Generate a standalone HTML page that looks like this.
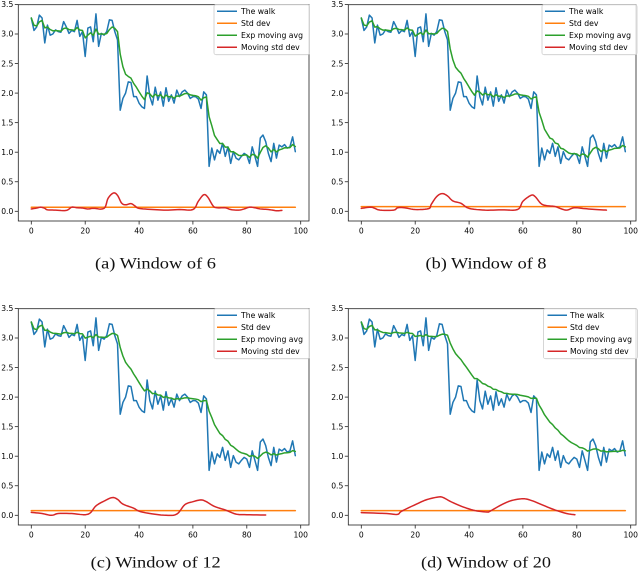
<!DOCTYPE html>
<html><head><meta charset="utf-8"><style>
html,body{margin:0;padding:0;background:#fff}
svg{display:block}
.tk{font-family:"DejaVu Sans","Liberation Sans",sans-serif;font-size:7.6px;fill:#000}
.lg{font-family:"DejaVu Sans","Liberation Sans",sans-serif;font-size:7.7px;fill:#000}
.cap{font-family:"Liberation Serif",serif;font-size:16px;fill:#111}
</style></head><body>
<svg id="s" width="640" height="577" viewBox="0 0 640 577" xmlns="http://www.w3.org/2000/svg">
<rect x="0" y="0" width="640" height="577" fill="#fff"/>

<!-- Panel A -->
<g transform="translate(0,0)">
 <g id="da"></g>
 <rect x="18.3" y="4.7" width="290.7" height="216.3" fill="none" stroke="#222" stroke-width="0.8"/>
 <g stroke="#222" stroke-width="0.8">
  <line x1="14.8" x2="18.3" y1="211.3" y2="211.3"/><line x1="14.8" x2="18.3" y1="181.75" y2="181.75"/><line x1="14.8" x2="18.3" y1="152.2" y2="152.2"/><line x1="14.8" x2="18.3" y1="122.65" y2="122.65"/><line x1="14.8" x2="18.3" y1="93.1" y2="93.1"/><line x1="14.8" x2="18.3" y1="63.55" y2="63.55"/><line x1="14.8" x2="18.3" y1="34" y2="34"/><line x1="14.8" x2="18.3" y1="4.45" y2="4.45"/>
  <line x1="31.3" x2="31.3" y1="221" y2="224.5"/><line x1="85.2" x2="85.2" y1="221" y2="224.5"/><line x1="139.1" x2="139.1" y1="221" y2="224.5"/><line x1="192.9" x2="192.9" y1="221" y2="224.5"/><line x1="246.8" x2="246.8" y1="221" y2="224.5"/><line x1="300.7" x2="300.7" y1="221" y2="224.5"/>
 </g>
 <g class="tk" text-anchor="end">
  <text x="13.3" y="214">0.0</text><text x="13.3" y="184.45">0.5</text><text x="13.3" y="154.9">1.0</text><text x="13.3" y="125.35">1.5</text><text x="13.3" y="95.8">2.0</text><text x="13.3" y="66.25">2.5</text><text x="13.3" y="36.7">3.0</text><text x="13.3" y="7.15">3.5</text>
 </g>
 <g class="tk" text-anchor="middle">
  <text x="31.3" y="233.4">0</text><text x="85.2" y="233.4">20</text><text x="139.1" y="233.4">40</text><text x="192.9" y="233.4">60</text><text x="246.8" y="233.4">80</text><text x="300.7" y="233.4">100</text>
 </g>
 <g>
  <rect x="214" y="4.7" width="95.5" height="50" rx="2" fill="#fff" fill-opacity="0.8" stroke="#ccc" stroke-width="0.8"/>
  <line x1="217" x2="237" y1="11.2" y2="11.2" stroke="#1f77b4" stroke-width="1.5"/>
  <line x1="217" x2="237" y1="23.2" y2="23.2" stroke="#ff7f0e" stroke-width="1.5"/>
  <line x1="217" x2="237" y1="35.2" y2="35.2" stroke="#2ca02c" stroke-width="1.5"/>
  <line x1="217" x2="237" y1="47.2" y2="47.2" stroke="#d62728" stroke-width="1.5"/>
  <text class="lg" x="241" y="13.9">The walk</text>
  <text class="lg" x="241" y="25.9">Std dev</text>
  <text class="lg" x="241" y="37.9">Exp moving avg</text>
  <text class="lg" x="241" y="49.9">Moving std dev</text>
 </g>
</g>

<!-- Panel B -->
<g transform="translate(330,0)">
 <g id="db"></g>
 <rect x="18.3" y="4.7" width="287.7" height="216.3" fill="none" stroke="#222" stroke-width="0.8"/>
 <g stroke="#222" stroke-width="0.8">
  <line x1="14.8" x2="18.3" y1="211.3" y2="211.3"/><line x1="14.8" x2="18.3" y1="181.75" y2="181.75"/><line x1="14.8" x2="18.3" y1="152.2" y2="152.2"/><line x1="14.8" x2="18.3" y1="122.65" y2="122.65"/><line x1="14.8" x2="18.3" y1="93.1" y2="93.1"/><line x1="14.8" x2="18.3" y1="63.55" y2="63.55"/><line x1="14.8" x2="18.3" y1="34" y2="34"/><line x1="14.8" x2="18.3" y1="4.45" y2="4.45"/>
  <line x1="31.3" x2="31.3" y1="221" y2="224.5"/><line x1="85.2" x2="85.2" y1="221" y2="224.5"/><line x1="139.1" x2="139.1" y1="221" y2="224.5"/><line x1="192.9" x2="192.9" y1="221" y2="224.5"/><line x1="246.8" x2="246.8" y1="221" y2="224.5"/><line x1="300.7" x2="300.7" y1="221" y2="224.5"/>
 </g>
 <g class="tk" text-anchor="end">
  <text x="13.3" y="214">0.0</text><text x="13.3" y="184.45">0.5</text><text x="13.3" y="154.9">1.0</text><text x="13.3" y="125.35">1.5</text><text x="13.3" y="95.8">2.0</text><text x="13.3" y="66.25">2.5</text><text x="13.3" y="36.7">3.0</text><text x="13.3" y="7.15">3.5</text>
 </g>
 <g class="tk" text-anchor="middle">
  <text x="31.3" y="233.4">0</text><text x="85.2" y="233.4">20</text><text x="139.1" y="233.4">40</text><text x="192.9" y="233.4">60</text><text x="246.8" y="233.4">80</text><text x="300.7" y="233.4">100</text>
 </g>
 <g>
  <rect x="212" y="4.7" width="95" height="50" rx="2" fill="#fff" fill-opacity="0.8" stroke="#ccc" stroke-width="0.8"/>
  <line x1="215" x2="235" y1="11.2" y2="11.2" stroke="#1f77b4" stroke-width="1.5"/>
  <line x1="215" x2="235" y1="23.2" y2="23.2" stroke="#ff7f0e" stroke-width="1.5"/>
  <line x1="215" x2="235" y1="35.2" y2="35.2" stroke="#2ca02c" stroke-width="1.5"/>
  <line x1="215" x2="235" y1="47.2" y2="47.2" stroke="#d62728" stroke-width="1.5"/>
  <text class="lg" x="239" y="13.9">The walk</text>
  <text class="lg" x="239" y="25.9">Std dev</text>
  <text class="lg" x="239" y="37.9">Exp moving avg</text>
  <text class="lg" x="239" y="49.9">Moving std dev</text>
 </g>
</g>

<!-- Panel C -->
<g transform="translate(0,304)">
 <g id="dc"></g>
 <rect x="18.3" y="4.7" width="290.7" height="216.3" fill="none" stroke="#222" stroke-width="0.8"/>
 <g stroke="#222" stroke-width="0.8">
  <line x1="14.8" x2="18.3" y1="211.3" y2="211.3"/><line x1="14.8" x2="18.3" y1="181.75" y2="181.75"/><line x1="14.8" x2="18.3" y1="152.2" y2="152.2"/><line x1="14.8" x2="18.3" y1="122.65" y2="122.65"/><line x1="14.8" x2="18.3" y1="93.1" y2="93.1"/><line x1="14.8" x2="18.3" y1="63.55" y2="63.55"/><line x1="14.8" x2="18.3" y1="34" y2="34"/><line x1="14.8" x2="18.3" y1="4.45" y2="4.45"/>
  <line x1="31.3" x2="31.3" y1="221" y2="224.5"/><line x1="85.2" x2="85.2" y1="221" y2="224.5"/><line x1="139.1" x2="139.1" y1="221" y2="224.5"/><line x1="192.9" x2="192.9" y1="221" y2="224.5"/><line x1="246.8" x2="246.8" y1="221" y2="224.5"/><line x1="300.7" x2="300.7" y1="221" y2="224.5"/>
 </g>
 <g class="tk" text-anchor="end">
  <text x="13.3" y="214">0.0</text><text x="13.3" y="184.45">0.5</text><text x="13.3" y="154.9">1.0</text><text x="13.3" y="125.35">1.5</text><text x="13.3" y="95.8">2.0</text><text x="13.3" y="66.25">2.5</text><text x="13.3" y="36.7">3.0</text><text x="13.3" y="7.15">3.5</text>
 </g>
 <g class="tk" text-anchor="middle">
  <text x="31.3" y="233.4">0</text><text x="85.2" y="233.4">20</text><text x="139.1" y="233.4">40</text><text x="192.9" y="233.4">60</text><text x="246.8" y="233.4">80</text><text x="300.7" y="233.4">100</text>
 </g>
 <g>
  <rect x="214" y="4.7" width="95.5" height="50" rx="2" fill="#fff" fill-opacity="0.8" stroke="#ccc" stroke-width="0.8"/>
  <line x1="217" x2="237" y1="11.2" y2="11.2" stroke="#1f77b4" stroke-width="1.5"/>
  <line x1="217" x2="237" y1="23.2" y2="23.2" stroke="#ff7f0e" stroke-width="1.5"/>
  <line x1="217" x2="237" y1="35.2" y2="35.2" stroke="#2ca02c" stroke-width="1.5"/>
  <line x1="217" x2="237" y1="47.2" y2="47.2" stroke="#d62728" stroke-width="1.5"/>
  <text class="lg" x="241" y="13.9">The walk</text>
  <text class="lg" x="241" y="25.9">Std dev</text>
  <text class="lg" x="241" y="37.9">Exp moving avg</text>
  <text class="lg" x="241" y="49.9">Moving std dev</text>
 </g>
</g>

<!-- Panel D -->
<g transform="translate(330,304)">
 <g id="dd"></g>
 <rect x="18.3" y="4.7" width="287.7" height="216.3" fill="none" stroke="#222" stroke-width="0.8"/>
 <g stroke="#222" stroke-width="0.8">
  <line x1="14.8" x2="18.3" y1="211.3" y2="211.3"/><line x1="14.8" x2="18.3" y1="181.75" y2="181.75"/><line x1="14.8" x2="18.3" y1="152.2" y2="152.2"/><line x1="14.8" x2="18.3" y1="122.65" y2="122.65"/><line x1="14.8" x2="18.3" y1="93.1" y2="93.1"/><line x1="14.8" x2="18.3" y1="63.55" y2="63.55"/><line x1="14.8" x2="18.3" y1="34" y2="34"/><line x1="14.8" x2="18.3" y1="4.45" y2="4.45"/>
  <line x1="31.3" x2="31.3" y1="221" y2="224.5"/><line x1="85.2" x2="85.2" y1="221" y2="224.5"/><line x1="139.1" x2="139.1" y1="221" y2="224.5"/><line x1="192.9" x2="192.9" y1="221" y2="224.5"/><line x1="246.8" x2="246.8" y1="221" y2="224.5"/><line x1="300.7" x2="300.7" y1="221" y2="224.5"/>
 </g>
 <g class="tk" text-anchor="end">
  <text x="13.3" y="214">0.0</text><text x="13.3" y="184.45">0.5</text><text x="13.3" y="154.9">1.0</text><text x="13.3" y="125.35">1.5</text><text x="13.3" y="95.8">2.0</text><text x="13.3" y="66.25">2.5</text><text x="13.3" y="36.7">3.0</text><text x="13.3" y="7.15">3.5</text>
 </g>
 <g class="tk" text-anchor="middle">
  <text x="31.3" y="233.4">0</text><text x="85.2" y="233.4">20</text><text x="139.1" y="233.4">40</text><text x="192.9" y="233.4">60</text><text x="246.8" y="233.4">80</text><text x="300.7" y="233.4">100</text>
 </g>
 <g>
  <rect x="213.5" y="4.7" width="94" height="50" rx="2" fill="#fff" fill-opacity="0.8" stroke="#ccc" stroke-width="0.8"/>
  <line x1="217.5" x2="237" y1="11.2" y2="11.2" stroke="#1f77b4" stroke-width="1.5"/>
  <line x1="217.5" x2="237" y1="23.2" y2="23.2" stroke="#ff7f0e" stroke-width="1.5"/>
  <line x1="217.5" x2="237" y1="35.2" y2="35.2" stroke="#2ca02c" stroke-width="1.5"/>
  <line x1="217.5" x2="237" y1="47.2" y2="47.2" stroke="#d62728" stroke-width="1.5"/>
  <text class="lg" x="240" y="13.9">The walk</text>
  <text class="lg" x="240" y="25.9">Std dev</text>
  <text class="lg" x="240" y="37.9">Exp moving avg</text>
  <text class="lg" x="240" y="49.9">Moving std dev</text>
 </g>
</g>

<!-- Captions -->
<text class="cap" x="155.5" y="268.5" text-anchor="middle" textLength="121" lengthAdjust="spacingAndGlyphs">(a) Window of 6</text>
<text class="cap" x="486" y="268.5" text-anchor="middle" textLength="121" lengthAdjust="spacingAndGlyphs">(b) Window of 8</text>
<text class="cap" x="155.7" y="567.5" text-anchor="middle" textLength="130" lengthAdjust="spacingAndGlyphs">(c) Window of 12</text>
<text class="cap" x="486" y="567.5" text-anchor="middle" textLength="130" lengthAdjust="spacingAndGlyphs">(d) Window of 20</text>
</svg>
<script>
(function(){
var NS="http://www.w3.org/2000/svg";
var W=[3.27,3.06,3.12,3.32,3.27,2.85,3.15,2.98,3.0,3.07,
3.04,3.03,3.21,3.12,3.01,3.06,3.04,3.23,2.96,3.04,
2.62,3.10,3.12,2.87,3.34,2.79,3.01,2.98,3.04,3.24,
3.23,3.04,2.9,1.71,1.91,2.0,2.19,2.18,1.94,1.94,
1.83,1.77,1.74,2.29,1.94,1.80,2.10,1.88,2.02,1.78,
2.09,1.86,1.97,1.83,2.05,1.94,2.02,2.05,2.0,1.91,
1.94,1.94,1.9,1.74,2.02,1.97,0.76,1.07,0.87,1.04,
0.98,1.15,0.93,1.09,0.81,1.01,0.90,0.87,0.93,0.98,
0.95,0.81,1.09,0.93,0.76,1.24,1.29,1.18,0.98,0.84,
1.15,0.90,1.12,1.09,1.13,1.07,1.09,1.26,1.01];
function X(t){return (31.3+2.694*t).toFixed(2);}
function Y(v){return (211.3-59.1*v).toFixed(2);}
function ema(w){var a=2/(w+1),num=0,den=0,r=[];for(var i=0;i<W.length;i++){num=num*(1-a)+W[i];den=den*(1-a)+1;r.push(num/den);}return r;}
function line(g,pts,col){var p=document.createElementNS(NS,"polyline");p.setAttribute("points",pts.map(function(q){return X(q[0])+","+Y(q[1]);}).join(" "));p.setAttribute("fill","none");p.setAttribute("stroke",col);p.setAttribute("stroke-width","1.5");p.setAttribute("stroke-linejoin","round");p.setAttribute("stroke-linecap","round");g.appendChild(p);}
function idx(a){return a.map(function(v,i){return [i,v];});}
function smooth(pts){var out=[];for(var i=0;i<pts.length-1;i++){var p0=pts[Math.max(i-1,0)],p1=pts[i],p2=pts[i+1],p3=pts[Math.min(i+2,pts.length-1)];for(var k=0;k<6;k++){var s=k/6,s2=s*s,s3=s2*s;var f=function(j){return 0.5*(2*p1[j]+(-p0[j]+p2[j])*s+(2*p0[j]-5*p1[j]+4*p2[j]-p3[j])*s2+(-p0[j]+3*p1[j]-3*p2[j]+p3[j])*s3);};out.push([f(0),f(1)]);}}out.push(pts[pts.length-1]);return out;}
var R={
a:[[0,0.04],[2,0.055],[3.5,0.07],[5,0.05],[6,0.025],[9,0.02],[13,0.015],[15,0.07],[17,0.06],[19,0.055],[21,0.04],[23,0.05],[27,0.05],[28.5,0.22],[30.5,0.31],[32,0.27],[33.5,0.14],[35,0.11],[37,0.13],[38.5,0.09],[40,0.05],[45,0.03],[50,0.02],[55,0.03],[60,0.03],[62,0.17],[64,0.28],[65.5,0.24],[67.5,0.09],[69,0.06],[72,0.06],[74,0.03],[77,0.02],[79,0.04],[81,0.07],[83,0.06],[85,0.04],[88,0.03],[91,0.01],[93,0.015]],
b:[[0,0.05],[3.5,0.07],[5,0.05],[7,0.02],[12,0.02],[13.5,0.06],[16,0.06],[20,0.03],[25,0.045],[26,0.12],[28,0.25],[30,0.3],[32,0.26],[34,0.175],[37,0.135],[40,0.05],[46,0.02],[52,0.025],[58,0.03],[60,0.17],[63,0.27],[64.5,0.25],[67,0.12],[70,0.09],[72,0.08],[76,0.02],[79,0.06],[83,0.045],[87,0.03],[91,0.02]],
c:[[0,0.05],[4,0.03],[7.5,0.0],[10,0.03],[15,0.03],[21,0.017],[24,0.16],[27,0.24],[30,0.3],[32,0.27],[34,0.19],[38,0.12],[40,0.07],[44,0.03],[50,0.0],[54,0.02],[57,0.18],[60,0.23],[63,0.26],[65,0.23],[68,0.15],[72,0.09],[76,0.02],[80,0.01],[87,0.005]],
d:[[0,0.045],[9.4,0.03],[13.4,0.015],[15,0.07],[20.5,0.19],[24.3,0.265],[28.6,0.31],[30.4,0.3],[33.5,0.225],[37.9,0.14],[42.2,0.08],[46.5,0.056],[47.8,0.07],[52.1,0.18],[55.8,0.25],[60.1,0.28],[63.2,0.25],[67,0.18],[71.3,0.1],[76.2,0.03],[79.3,0.01]]
};
var P={a:[6,0.068],b:[8,0.079],c:[12,0.08],d:[20,0.079]};
["a","b","c","d"].forEach(function(k){
 var g=document.getElementById("d"+k);
 line(g,idx(W),"#1f77b4");
 line(g,[[0,P[k][1]],[98,P[k][1]]],"#ff7f0e");
 line(g,idx(ema(P[k][0])),"#2ca02c");
 line(g,smooth(R[k]),"#d62728");
});
})();
</script>
</body></html>
